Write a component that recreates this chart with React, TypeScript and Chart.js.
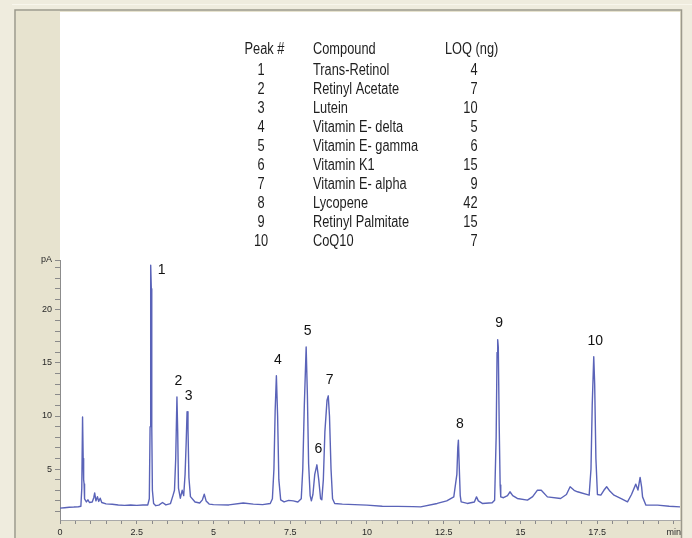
import React, { useEffect, useRef } from "react";
import { Chart, registerables } from "chart.js";
Chart.register(...registerables);

// Chromatogram trace (retention time in min, signal in pA)
const traceTimes = [
  0.0, 0.15, 0.3, 0.45, 0.6, 0.68, 0.71, 0.735, 0.755, 0.77, 0.785, 0.8, 0.86, 0.91, 0.96, 1.05, 1.1, 1.13, 1.17, 1.22,
  1.26, 1.31, 1.36, 1.5, 1.7, 1.9, 2.1, 2.3, 2.5, 2.7, 2.86, 2.91, 2.935, 2.955, 2.975, 2.99, 3.01, 3.05, 3.12, 3.22,
  3.34, 3.45, 3.6, 3.68, 3.73, 3.77, 3.81, 3.835, 3.86, 3.92, 3.98, 4.03, 4.075, 4.11, 4.14, 4.17, 4.2, 4.25, 4.4, 4.55,
  4.64, 4.7, 4.76, 4.86, 5.0, 5.5, 5.97, 6.3, 6.6, 6.85, 6.92, 6.97, 7.01, 7.05, 7.09, 7.13, 7.19, 7.3, 7.45, 7.6,
  7.75, 7.86, 7.91, 7.96, 8.02, 8.06, 8.1, 8.15, 8.19, 8.24, 8.3, 8.37, 8.43, 8.49, 8.53, 8.58, 8.63, 8.7, 8.74, 8.78,
  8.83, 8.88, 8.95, 9.2, 9.6, 10.0, 10.5, 11.0, 11.5, 11.75, 12.29, 12.6, 12.83, 12.93, 12.96, 12.98, 13.01, 13.04, 13.07, 13.27,
  13.5, 13.57, 13.63, 13.76, 14.08, 14.16, 14.21, 14.24, 14.26, 14.28, 14.31, 14.34, 14.36, 14.45, 14.58, 14.66, 14.75, 14.9, 15.23, 15.4,
  15.55, 15.68, 15.88, 16.31, 16.5, 16.62, 16.75, 16.86, 17.24, 17.3, 17.34, 17.39, 17.42, 17.46, 17.51, 17.62, 17.72, 17.81, 17.92, 18.05,
  18.3, 18.49, 18.62, 18.76, 18.83, 18.9, 18.95, 18.98, 19.09, 19.47, 19.85, 20.2,
];
const traceValues = [
  1.32, 1.36, 1.4, 1.42, 1.45, 1.5, 3.2, 9.9, 6.0, 4.0, 3.6, 2.2, 1.9, 2.1, 1.85, 1.9, 2.3, 2.75, 2.0, 2.4,
  1.95, 2.25, 1.85, 1.72, 1.68, 1.62, 1.58, 1.62, 1.58, 1.62, 1.62, 2.2, 9.0, 24.2, 22.0, 9.0, 3.0, 1.75, 1.55, 1.6,
  1.85, 1.62, 1.75, 2.5, 3.0, 6.0, 11.8, 8.5, 3.2, 2.25, 3.0, 2.5, 4.5, 7.4, 10.4, 8.8, 4.2, 2.4, 1.9, 1.8,
  2.1, 2.64, 2.0, 1.7, 1.65, 1.62, 1.8, 1.7, 1.65, 1.75, 2.2, 5.0, 10.5, 13.8, 10.0, 4.0, 2.1, 1.9, 2.05, 2.0,
  1.9, 2.2, 5.0, 11.0, 16.5, 12.0, 5.5, 2.5, 2.0, 2.6, 4.5, 5.4, 4.0, 2.2, 2.1, 4.0, 8.5, 11.5, 11.9, 10.0,
  5.0, 2.2, 1.75, 1.7, 1.65, 1.6, 1.5, 1.48, 1.46, 1.44, 1.76, 2.0, 2.38, 4.5, 7.0, 7.73, 5.0, 2.5, 1.91, 1.76,
  1.9, 2.38, 2.0, 1.76, 1.82, 2.07, 8.0, 16.0, 17.2, 16.5, 9.0, 3.5, 2.38, 2.3, 2.5, 2.86, 2.5, 2.23, 2.07, 2.4,
  3.0, 3.0, 2.38, 2.23, 2.6, 3.33, 3.0, 2.86, 2.54, 5.0, 11.0, 15.58, 13.0, 6.0, 2.6, 2.54, 3.0, 3.33, 2.9, 2.54,
  2.2, 1.91, 2.6, 3.58, 3.02, 4.21, 3.3, 2.38, 1.6, 1.6, 1.5, 1.44,
];

// Peak annotations
const peakNumbers = ["1", "2", "3", "4", "5", "6", "7", "8", "9", "10"];
const peakTimes = [2.955, 3.81, 4.14, 7.05, 8.02, 8.37, 8.74, 12.98, 14.26, 17.39];
const peakHeights = [24.2, 11.8, 10.4, 13.8, 16.5, 5.4, 11.9, 7.73, 17.2, 15.58];

// Table
const tableHeaders = ["Peak #", "Compound", "LOQ (ng)"];
const compounds = [
  "Trans-Retinol",
  "Retinyl Acetate",
  "Lutein",
  "Vitamin E- delta",
  "Vitamin E- gamma",
  "Vitamin K1",
  "Vitamin E- alpha",
  "Lycopene",
  "Retinyl Palmitate",
  "CoQ10",
];
const loqValues = [4, 7, 10, 5, 6, 15, 9, 42, 15, 7];

// Axes
const xMin = 0;
const xMax = 20.2;
const xMinorStep = 0.5;
const xMajorStep = 2.5;
const xLastTick = 20;
const xUnitLabel = "min";
const yMin = 0.2;
const yMax = 24.7;
const yMinorStep = 1;
const yMajorStep = 5;
const yUnitLabel = "pA";

const W = 692;
const H = 538;

export default function App() {
  const ref = useRef<HTMLCanvasElement | null>(null);

  useEffect(() => {
    const canvas = ref.current;
    if (!canvas) return;

    const framePlugin = {
      id: "frame",
      beforeDraw(chart: any) {
        const ctx = chart.ctx;
        const ca = chart.chartArea;
        ctx.save();
        ctx.fillStyle = "#EFECDE";
        ctx.fillRect(0, 0, W, H);
        ctx.fillStyle = "#F8F6EC";
        ctx.fillRect(12, 4, W - 12, 1);
        ctx.fillStyle = "#E7E3CF";
        ctx.fillRect(16, 11, ca.right + 1 - 16, H - 11);
        ctx.strokeStyle = "#9C998C";
        ctx.lineWidth = 1.5;
        ctx.beginPath();
        ctx.moveTo(15, H);
        ctx.lineTo(15, 10);
        ctx.lineTo(ca.right + 1.5, 10);
        ctx.lineTo(ca.right + 1.5, H);
        ctx.stroke();
        ctx.fillStyle = "#FFFFFF";
        ctx.fillRect(ca.left, 12, ca.right - ca.left, ca.bottom - 12);
        ctx.restore();
      },
      afterDraw(chart: any) {
        const ctx = chart.ctx;
        const xs = chart.scales.x;
        const ys = chart.scales.y;
        const ca = chart.chartArea;
        ctx.save();
        // table (condensed look)
        const sx = 0.8;
        ctx.font = '16px "Liberation Sans", Arial, sans-serif';
        ctx.fillStyle = "#1E1E1E";
        ctx.textBaseline = "middle";
        const drawText = (t: string, x: number, y: number, align: CanvasTextAlign) => {
          ctx.save();
          ctx.setTransform(sx, 0, 0, 1, 0, 0);
          ctx.textAlign = align;
          ctx.fillText(t, x / sx, y);
          ctx.restore();
        };
        const headerY = 50;
        const rowY0 = 71;
        const rowStep = 18.9;
        drawText(tableHeaders[0], 264.5, headerY, "center");
        drawText(tableHeaders[1], 313, headerY, "left");
        drawText(tableHeaders[2], 445, headerY, "left");
        for (let i = 0; i < compounds.length; i++) {
          const y = rowY0 + i * rowStep;
          drawText(String(i + 1), 261, y, "center");
          drawText(compounds[i], 313, y, "left");
          drawText(String(loqValues[i]), 477.5, y, "right");
        }
        // peak labels
        ctx.font = '14px "Liberation Sans", Arial, sans-serif';
        ctx.fillStyle = "#111111";
        ctx.textAlign = "center";
        ctx.textBaseline = "middle";
        for (let i = 0; i < peakNumbers.length; i++) {
          const px = xs.getPixelForValue(peakTimes[i]);
          const py = ys.getPixelForValue(peakHeights[i]);
          if (py - 16 < ca.top + 4) {
            ctx.fillText(peakNumbers[i], px + 11, py + 5);
          } else {
            ctx.fillText(peakNumbers[i], px + 1.5, py - 16);
          }
        }
        ctx.restore();
      },
    };

    const data = traceTimes.map((t, i) => ({ x: t, y: traceValues[i] }));

    const chart = new Chart(canvas, {
      type: "line",
      data: {
        datasets: [
          {
            data,
            borderColor: "#5A63B8",
            borderWidth: 1.4,
            pointRadius: 0,
            tension: 0,
            fill: false,
            borderJoinStyle: "round",
          } as any,
        ],
      },
      options: {
        responsive: false,
        animation: false,
        devicePixelRatio: 1,
        layout: { padding: { top: 260, right: 12, left: 0, bottom: 0 } },
        plugins: { legend: { display: false }, tooltip: { enabled: false } },
        scales: {
          x: {
            type: "linear",
            min: xMin,
            max: xMax,
            afterFit(scale: any) {
              scale.height = H - 520;
            },
            afterBuildTicks(scale: any) {
              const ticks = [];
              for (let v = xMin; v <= xLastTick + 1e-9; v += xMinorStep) ticks.push({ value: Math.round(v * 10) / 10 });
              scale.ticks = ticks;
            },
            grid: {
              display: true,
              drawOnChartArea: false,
              drawTicks: true,
              tickLength: 4,
              color: "#8A8A8A",
            },
            border: { display: true, color: "#A9A9A9", width: 1 },
            ticks: {
              autoSkip: false,
              maxRotation: 0,
              minRotation: 0,
              padding: 3,
              color: "#2A2A2A",
              font: { family: '"Liberation Sans", Arial, sans-serif', size: 9 },
              callback(value: any) {
                const v = Number(value);
                if (Math.abs(v - xLastTick) < 1e-6) return xUnitLabel;
                if (Math.abs(v / xMajorStep - Math.round(v / xMajorStep)) < 1e-6) return String(v);
                return "";
              },
            },
          },
          y: {
            type: "linear",
            min: yMin,
            max: yMax,
            afterFit(scale: any) {
              scale.width = 60;
            },
            afterBuildTicks(scale: any) {
              const ticks = [];
              for (let v = 1; v <= 24; v += yMinorStep) ticks.push({ value: v });
              ticks.push({ value: yMax });
              scale.ticks = ticks;
            },
            grid: {
              display: true,
              drawOnChartArea: false,
              drawTicks: true,
              tickLength: 5,
              color: "#8A8A8A",
            },
            border: { display: true, color: "#8C8C8C", width: 1 },
            ticks: {
              autoSkip: false,
              padding: 3,
              color: "#2A2A2A",
              font: { family: '"Liberation Sans", Arial, sans-serif', size: 9 },
              callback(value: any) {
                const v = Number(value);
                if (Math.abs(v - yMax) < 1e-6) return yUnitLabel;
                if (v % yMajorStep === 0) return String(v);
                return "";
              },
            },
          },
        },
      },
      plugins: [framePlugin],
    });

    return () => chart.destroy();
  }, []);

  return (
    <div style={{ position: "fixed", left: 0, top: 0, width: W, height: H }}>
      <canvas ref={ref} width={W} height={H} style={{ width: W, height: H, display: "block" }} />
    </div>
  );
}
